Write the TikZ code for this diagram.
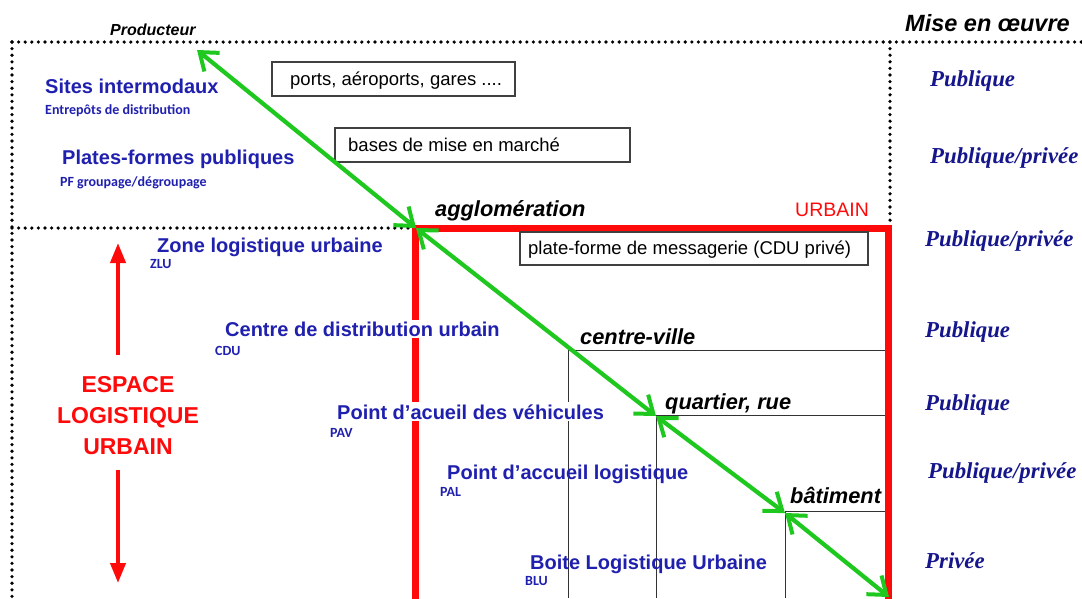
\documentclass[tikz,border=0pt]{standalone}
\usepackage{fontspec}
\setmainfont{Liberation Sans}
\newfontfamily\timesfont{Liberation Serif}
\newfontfamily\smallfont{Carlito}
\usetikzlibrary{arrows.meta}
\definecolor{labblue}{RGB}{32,32,175}
\definecolor{moblue}{RGB}{22,22,140}
\definecolor{redl}{RGB}{255,10,10}
\definecolor{greenl}{RGB}{30,200,30}
\tikzset{
  txt/.style={anchor=mid west, inner sep=0pt, yshift=-3.5pt},
  lbl/.style={txt, text=labblue, font=\bfseries\fontsize{20}{22}\selectfont},
  abbr/.style={txt, text=labblue, font=\smallfont\bfseries\fontsize{14}{15}\selectfont},
  lvl/.style={txt, font=\bfseries\itshape\fontsize{21.8}{23}\selectfont},
  mo/.style={txt, text=moblue, font=\timesfont\bfseries\itshape\fontsize{22.8}{24}\selectfont},
  gbox/.style={draw=black!75, line width=1.3pt},
  gtext/.style={txt, font=\fontsize{18.5}{20}\selectfont},
  dots/.style={line width=3.6pt, line cap=round, dash pattern=on 0pt off 6.6pt},
  redline/.style={draw=redl, line width=7pt},
  thin/.style={draw=black!80, line width=1pt},
  garrow/.style={draw=greenl, line width=4.2pt, {Straight Barb[length=16pt,width=24pt,line width=4pt]}-{Straight Barb[length=16pt,width=24pt,line width=4pt]}},
  rarrow/.style={draw=redl, line width=4pt, -{Triangle[length=20pt,width=15pt]}},
}
\begin{document}
\begin{tikzpicture}[x=1pt,y=-1pt]
\useasboundingbox[fill=white] (0,0) rectangle (1082,598);
% dotted frame
\draw[dots] (12,42) -- (1082,42);
\draw[dots] (12,42) -- (12,598);
\draw[dots] (890,42) -- (890,228);
\draw[dots] (12,228) -- (412,228);
% thin level lines
\draw[thin] (568,350) -- (886,350);
\draw[thin] (568,350) -- (568,598);
\draw[thin] (656,415) -- (886,415);
\draw[thin] (656,415) -- (656,598);
\draw[thin] (785,511) -- (886,511);
\draw[thin] (785,511) -- (785,598);
% red urban frame
\draw[redline] (415,602) -- (415,228) -- (888,228) -- (888,602);
% grey boxes
\draw[gbox] (272,62) rectangle (515,96);
\node[gtext] (ports) at (290,79) {ports, aéroports, gares ....};
\draw[gbox] (335,128) rectangle (630,162);
\node[gtext] (bases) at (348,145) {bases de mise en marché};
\draw[gbox] (520,232) rectangle (868,265);
\node[gtext] (plate) at (528,248) {plate-forme de messagerie (CDU privé)};
% headers
\node[txt, font=\bfseries\itshape\fontsize{16}{17}\selectfont] (prodl) at (110,29) {Producteur};
\node[txt, font=\bfseries\itshape\fontsize{23.5}{25}\selectfont] (mise) at (905,25) {Mise en œuvre};
% level labels
\node[lvl] (aggl) at (435,210) {agglomération};
\node[txt, text=redl, font=\fontsize{19.5}{21}\selectfont] (urb) at (795,210) {URBAIN};
\node[lvl] (cv) at (580,338) {centre-ville};
\node[lvl] (qr) at (665,403) {quartier, rue};
\node[lvl] (bt) at (790,497) {bâtiment};
% blue labels
\node[lbl] (si) at (45,87) {Sites intermodaux};
\node[abbr] (ed) at (45,108) {Entrepôts de distribution};
\node[lbl] (pf) at (62,158) {Plates-formes publiques};
\node[abbr] (pfg) at (60,180) {PF groupage/dégroupage};
\node[lbl] (zlu) at (157,246) {Zone logistique urbaine};
\node[abbr] (zlua) at (150,262) {ZLU};
\node[lbl, fill=white, inner sep=2pt] (cdu) at (223,330) {Centre de distribution urbain};
\node[abbr] (cdua) at (215,349) {CDU};
\node[lbl, fill=white, inner sep=2pt] (pav) at (335,413) {Point d’acueil des véhicules};
\node[abbr] (pava) at (330,431) {PAV};
\node[lbl] (pal) at (447,473) {Point d’accueil logistique};
\node[abbr] (pala) at (440,490) {PAL};
\node[lbl] (blu) at (530,563) {Boite Logistique Urbaine};
\node[abbr] (blua) at (525,579) {BLU};
% espace logistique urbain
\node[text=redl, font=\bfseries\fontsize{23}{31}\selectfont, align=center, inner sep=0pt] (esp) at (128,416) {ESPACE\\LOGISTIQUE\\URBAIN};
\coordinate (upA) at (118,355);
\coordinate (upB) at (118,243);
\coordinate (dnA) at (118,470);
\coordinate (dnB) at (118,583);
\draw[rarrow] (upA) -- (upB);
\draw[rarrow] (dnA) -- (dnB);
% mise en oeuvre column
\node[mo] (m1) at (930,80) {Publique};
\node[mo] (m2) at (930,157) {Publique/privée};
\node[mo] (m3) at (925,240) {Publique/privée};
\node[mo] (m4) at (925,331) {Publique};
\node[mo] (m5) at (925,404) {Publique};
\node[mo] (m6) at (928,472) {Publique/privée};
\node[mo] (m7) at (925,562) {Privée};
% green chain
\coordinate (gP) at (197,50);
\coordinate (gA) at (416,228);
\coordinate (gQ) at (656,416);
\coordinate (gB) at (785,513);
\coordinate (gE) at (889,597);
\draw[garrow] (gP) -- (gA);
\draw[garrow] (gA) -- (gQ);
\draw[garrow] (gQ) -- (gB);
\draw[garrow] (gB) -- (gE);
\end{tikzpicture}
\end{document}
